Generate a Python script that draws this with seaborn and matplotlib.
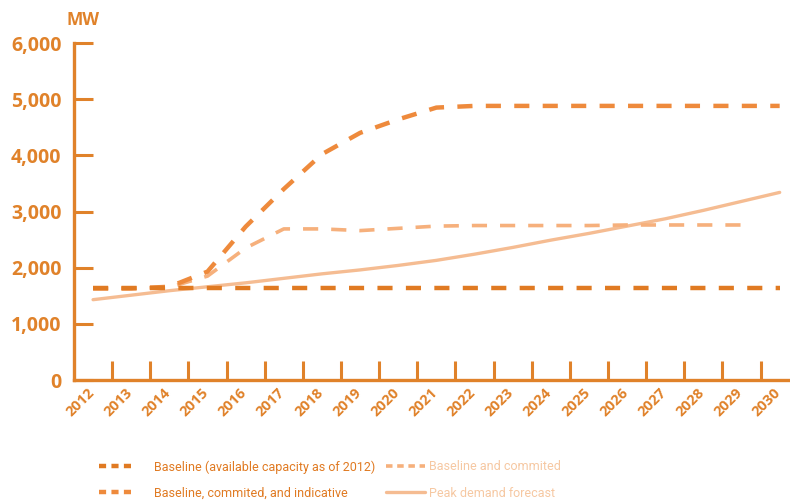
import numpy as np
import pandas as pd
import matplotlib
matplotlib.use("Agg")
import matplotlib.pyplot as plt
import matplotlib.transforms as mtrans
from matplotlib.lines import Line2D
import seaborn as sns

years = list(range(2012, 2031))
baseline = [1630] * 19
committed_indicative = [1630, 1630, 1660, 1930, 2730, 3400, 4020, 4400, 4640, 4850,
                        4880, 4880, 4880, 4880, 4880, 4880, 4880, 4880, 4880]
committed = [1630, 1630, 1650, 1850, 2350, 2690, 2690, 2660, 2700, 2740,
             2750, 2750, 2750, 2750, 2760, 2760, 2760, 2760]
peak = [1430, 1510, 1590, 1660, 1730, 1810, 1890, 1960, 2040, 2130,
        2240, 2360, 2490, 2610, 2740, 2870, 3020, 3180, 3340]
y_ticks = [0, 1000, 2000, 3000, 4000, 5000, 6000]
y_labels = ["0", "1,000", "2,000", "3,000", "4,000", "5,000", "6,000"]
labels = ["Baseline (available capacity as of 2012)", "Baseline and commited",
          "Baseline, commited, and indicative", "Peak demand forecast"]

sns.set_theme(style="white")
plt.rcParams['font.family'] = ['Open Sans', 'DejaVu Sans']

AX = "#E0822A"
C_BASE = "#E07A22"
C_IND = "#EE8A3C"
C_COM = "#F6B07C"
C_PEAK = "#F5BC92"

fig = plt.figure(figsize=(7.9, 5.04), dpi=100)
ax = fig.add_axes([74 / 790, 1 - 380 / 504, 1 - 74 / 790 - 0.001, (380 - 43) / 504])

idx = np.arange(len(years))
df_base = pd.DataFrame({"x": idx, "y": baseline})
df_ind = pd.DataFrame({"x": idx, "y": committed_indicative})
df_com = pd.DataFrame({"x": idx[:len(committed)], "y": committed})
df_peak = pd.DataFrame({"x": idx, "y": peak})

sns.lineplot(data=df_peak, x="x", y="y", ax=ax, color=C_PEAK, lw=2.4, zorder=2)
sns.lineplot(data=df_com, x="x", y="y", ax=ax, color=C_COM, lw=2.6, zorder=3,
             linestyle=(0, (4.2, 3.6)))
sns.lineplot(data=df_ind, x="x", y="y", ax=ax, color=C_IND, lw=3.2, zorder=4,
             linestyle=(0, (3.4, 3.0)))
sns.lineplot(data=df_base, x="x", y="y", ax=ax, color=C_BASE, lw=3.2, zorder=5,
             linestyle=(0, (3.4, 3.0)))

ax.set_xlim(-0.5, 18.25)
ax.set_ylim(0, 6000)
ax.set_xlabel("")
ax.set_ylabel("")

for s in ["top", "right"]:
    ax.spines[s].set_visible(False)
for s in ["left", "bottom"]:
    ax.spines[s].set_color(AX)
    ax.spines[s].set_linewidth(2.4)

ax.set_yticks(y_ticks)
ax.set_yticklabels(y_labels)
ax.tick_params(axis="y", left=True, direction="in", length=14, width=2.2, color=AX,
               labelcolor=AX, labelsize=14, pad=9)
for t in ax.get_yticklabels():
    t.set_fontweight("bold")

ax.set_xticks(np.arange(0.5, 18, 1.0))
ax.set_xticklabels([])
ax.tick_params(axis="x", which="major", bottom=True, direction="in", length=14,
               width=2.2, color=AX)
ax.set_xticks(idx, minor=True)
ax.set_xticklabels([str(y) for y in years], minor=True)
ax.tick_params(axis="x", which="minor", bottom=True, length=0, labelcolor=AX,
               labelsize=10.5, pad=4)
offset = mtrans.ScaledTranslation(-6 / 100, 0, fig.dpi_scale_trans)
for t in ax.get_xticklabels(minor=True):
    t.set_rotation(45)
    t.set_ha("right")
    t.set_va("top")
    t.set_rotation_mode("anchor")
    t.set_fontweight("bold")
    t.set_transform(t.get_transform() + offset)

fig.text(67 / 790, 1 - 20 / 504, "MW", color=AX, fontsize=12.5, fontweight="bold",
         ha="left", va="center")

lfont = {"family": ["Roboto", "DejaVu Sans"], "size": 9}
h1 = [Line2D([], [], color=C_BASE, lw=3.2, linestyle=(0, (1.6, 1.2))),
      Line2D([], [], color=C_IND, lw=3.2, linestyle=(0, (1.6, 1.2)))]
h2 = [Line2D([], [], color=C_COM, lw=2.6, linestyle=(0, (1.8, 1.3))),
      Line2D([], [], color=C_PEAK, lw=2.4)]
leg1 = fig.legend(h1, [labels[0], labels[2]], loc="center left",
                  bbox_to_anchor=(88 / 790, 1 - 480 / 504), frameon=False,
                  handlelength=2.8, handletextpad=1.6, labelspacing=1.05, prop=lfont)
for t in leg1.get_texts():
    t.set_color("#E07A22")
leg2 = fig.legend(h2, [labels[1], labels[3]], loc="center left",
                  bbox_to_anchor=(375 / 790, 1 - 480 / 504), frameon=False,
                  handlelength=3.1, handletextpad=0.3, labelspacing=1.05, prop=lfont)
for t in leg2.get_texts():
    t.set_color("#F6C8A2")

fig.savefig("out.png", dpi=100)
